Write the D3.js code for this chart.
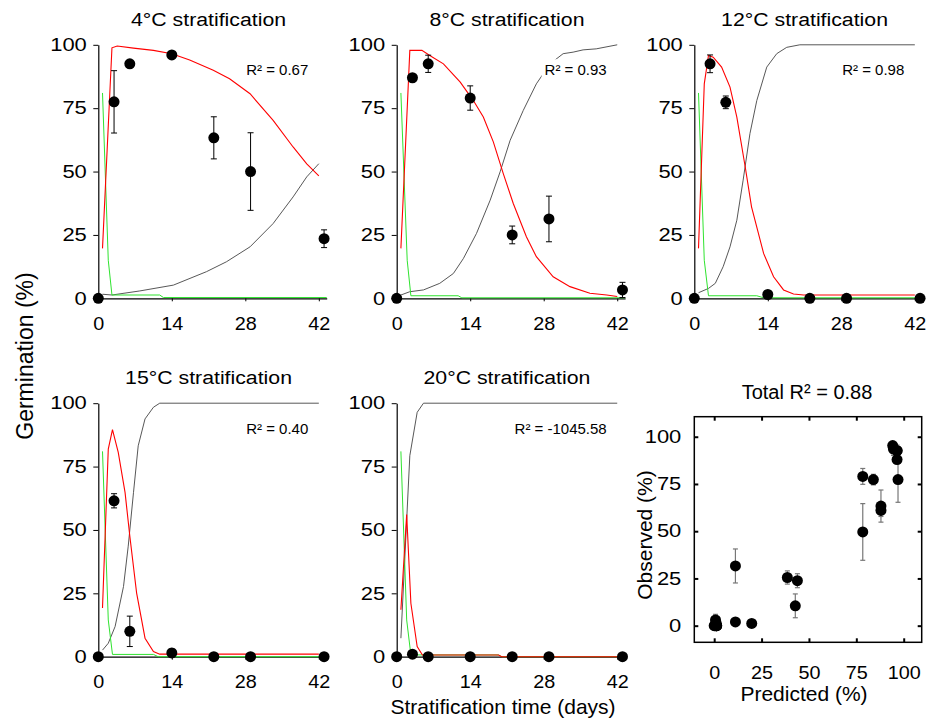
<!DOCTYPE html>
<html lang="en">
<head>
<meta charset="UTF-8">
<title>Germination vs stratification time</title>
<script src="https://cdn.jsdelivr.net/npm/d3@7/dist/d3.min.js"></script>
<style>
  body { margin: 0; background: #fff; }
  svg { font-family: "Liberation Sans", Arial, sans-serif; }
  .ylab text { transform-box: fill-box; transform-origin: right center; transform: scaleX(1.22); }
  .xlab text { transform-box: fill-box; transform-origin: center; transform: scaleX(1.1); }
  .ptitle { transform-box: fill-box; transform-origin: center; transform: scaleX(1.12); }
</style>
</head>
<body>
<script>
// sampling days and tick labels
const days = [0, 3, 6, 14, 22, 29, 43];
const xTicks = [0, 14, 28, 42];
const yTicks = [0, 25, 50, 75, 100];
const scatterTicks = [0, 25, 50, 75, 100];

const titles = ["4°C stratification", "8°C stratification", "12°C stratification", "15°C stratification", "20°C stratification"];
const r2Labels = ["R² = 0.67", "R² = 0.93", "R² = 0.98", "R² = 0.40", "R² = -1045.58"];

// observed germination (%) and error
const obs4 = [0, 77.5, 92.5, 96, 63.3, 50, 23.5];
const err4 = [0, 12.3, 0, 0, 8.3, 15.3, 3.5];
const obs8 = [0, 87, 92.5, 79, 25, 31.3, 3.3];
const err8 = [0, 0, 3.4, 4.8, 3.5, 9, 3];
const obs12 = [0, 92.5, 77.3, 1.5, 0, 0, 0];
const err12 = [0, 3.5, 2.5, 1.5, 0, 0, 0];
const obs15 = [0, 61.5, 10, 1.5, 0, 0, 0];
const err15 = [0, 2.8, 6, 1.5, 0, 0, 0];
const obs20 = [0, 1, 0, 0, 0, 0, 0];
const err20 = [0, 0, 0, 0, 0, 0, 0];

// model curves [day, %]
const red4 = [[0.8,19.7],[2.6,98.8],[3.6,99.5],[6.7,98.7],[10.5,97.8],[14,96.5],[17.4,94],[21.9,90],[25,86.6],[28.9,80.7],[33.3,70.2],[37.1,59.7],[39.7,53],[42,48.3]];
const black4 = [[0.8,1.6],[2.6,1.3],[7.9,2.9],[14.3,5.2],[20.6,10.5],[24.4,14.4],[28.9,20.3],[33.3,29.5],[37.1,40],[39.7,47.9],[42,53.1]];
const green4 = [[0.8,81],[1.9,15],[2.6,1.3],[11.7,1.3],[12.4,0.3],[43.5,0.3]];

const red8 = [[0.8,19.7],[2.5,97.8],[4.8,97.8],[6.3,95.8],[8.9,92.5],[12.1,85.3],[14.6,78],[16.5,71.5],[18.4,61.7],[20.3,49.2],[22.2,37.4],[24.7,24.3],[26.6,16.4],[29.8,8.5],[33,4.6],[36.8,2],[40,1.3],[42,0.7]];
const black8 = [[0.8,1.3],[2.5,2.6],[5.1,3.3],[8.2,5.9],[10.8,9.8],[12.7,15.7],[15.2,25.6],[17.8,38.7],[19.7,49.9],[21.6,62.3],[24.1,74.1],[26.6,84.6],[29.2,92.5],[31.7,96.5],[33.6,97.1],[35.5,98],[38,98.4],[42,100]];
const green8 = [[0.8,81],[2,15],[2.7,1],[11.7,1],[12.4,0.2],[43.5,0.2]];

const red12 = [[0.8,19.7],[1.9,84.6],[2.7,95.8],[3.6,95.1],[5.2,91.2],[6.8,83.3],[8.1,71.5],[9.7,51.8],[10.9,36.1],[13.2,17.7],[15.1,8.5],[17,3.3],[18.9,1.7],[20.8,1.3],[42,1.3]];
const black12 = [[0.8,2.2],[2.7,3.9],[4,5.9],[5.5,12.5],[6.8,20.3],[8.1,30.8],[9.3,46.6],[10.6,65],[11.9,78],[13.8,91.2],[15.7,96.5],[17.6,99],[20.1,100],[42,100]];
const green12 = [[0.8,81],[1.9,15],[2.7,1],[11.9,1],[13.2,0.2],[43.5,0.2]];

const red15 = [[0.8,19.2],[1.9,81.9],[2.7,89.6],[3.8,80.6],[5.1,64.7],[6,47.6],[7.3,25.1],[8.9,7.3],[10.5,2],[11.7,1],[42,1]];
const black15 = [[0.8,2.6],[1.9,5.3],[3.2,11.9],[4.8,27.7],[5.7,43.6],[6.7,64.7],[7.6,83.2],[8.9,93.8],[10.5,98.4],[11.7,100],[42,100]];
const green15 = [[0.8,81],[1.9,14.5],[2.7,0.9],[10.5,0.9],[11.4,0],[43.5,0]];

const red20 = [[0.8,18.5],[1.9,56.1],[2.7,21.1],[3.9,4],[4.9,0.7],[19.4,0.7],[20,0],[42,0]];
const black20 = [[0.8,7.3],[2.5,79.3],[3.9,96.4],[5.1,100],[42,100]];
const green20 = [[0.8,81],[1.9,14.5],[2.7,0.7],[19.4,0.7],[20,0],[43.5,0]];

// predicted vs observed
const predicted = [97, 96.5, 94.2, 88, 78.4, 43.9, 96.5, 94.6, 78.4, 38.6, 11.2, 0.7, 96.5, 84, 11.2, 1.3, 1.3, 1.3, 88, 42.8, 1, 1, 19.8, 0.5, 0];
const observed  = [77.3, 92.6, 95.3, 63.3, 49.6, 23.8, 87.9, 93.5, 79, 25.5, 31.6, 3, 92.6, 77.3, 2, 0, 0, 0, 61, 10.5, 1.5, 0, 1.2, 0, 0];
const obsErr    = [12, 0, 0, 8.5, 15, 3.7, 0, 3.4, 4.2, 3.5, 9, 3, 3, 2.8, 1.5, 0, 0, 0, 3.2, 6.3, 0, 0, 0, 0, 0];

const panels = [
  {title: titles[0], r2: r2Labels[0], obs: obs4, err: err4, red: red4, black: black4, green: green4},
  {title: titles[1], r2: r2Labels[1], obs: obs8, err: err8, red: red8, black: black8, green: green8},
  {title: titles[2], r2: r2Labels[2], obs: obs12, err: err12, red: red12, black: black12, green: green12},
  {title: titles[3], r2: r2Labels[3], obs: obs15, err: err15, red: red15, black: black15, green: green15},
  {title: titles[4], r2: r2Labels[4], obs: obs20, err: err20, red: red20, black: black20, green: green20}
];

const originX = [98.3, 396.7, 694.3, 98.3, 396.7];
const originY = [298.3, 298.3, 298.3, 656.7, 656.7];
const plotW = 228.4, plotH = 253.5;

const svg = d3.select("body").append("svg").attr("width", 927).attr("height", 726);

panels.forEach((p, i) => {
  const x = d3.scaleLinear().domain([0, 43.5]).range([originX[i], originX[i] + plotW]);
  const y = d3.scaleLinear().domain([0, 100]).range([originY[i], originY[i] - plotH]);
  const g = svg.append("g");

  const yAx = g.append("g").attr("class", "ylab")
    .attr("transform", `translate(${originX[i]},0)`)
    .call(d3.axisLeft(y).tickValues(yTicks).tickSize(5).tickPadding(6.5).tickSizeOuter(0));
  const xAx = g.append("g").attr("class", "xlab")
    .attr("transform", `translate(0,${originY[i]})`)
    .call(d3.axisBottom(x).tickValues(xTicks).tickSize(3).tickPadding(16).tickSizeOuter(0));
  [yAx, xAx].forEach(a => {
    a.selectAll("text").attr("font-size", 18).attr("fill", "#000").attr("font-family", null);
    a.selectAll("line").attr("stroke", "#000");
    a.select(".domain").attr("stroke", "#000").attr("stroke-width", 1.2);
  });

  const line = d3.line().x(d => x(d[0])).y(d => y(d[1]));
  g.append("path").datum(p.black).attr("d", line).attr("fill", "none").attr("stroke", "#444").attr("stroke-width", 0.9);
  g.append("path").datum(p.green).attr("d", line).attr("fill", "none").attr("stroke", "#2fe32f").attr("stroke-width", 1);
  g.append("path").datum(p.red).attr("d", line).attr("fill", "none").attr("stroke", "#ff0000").attr("stroke-width", 1.1);

  // R² label with white box behind it
  const lab = g.append("text").attr("x", x(42) - 10.5).attr("y", y(88))
    .attr("text-anchor", "end").attr("font-size", 15).text(p.r2);
  const bb = lab.node().getBBox();
  g.insert("rect", () => lab.node())
    .attr("x", bb.x - 3).attr("y", bb.y - 2).attr("width", bb.width + 6).attr("height", bb.height + 4)
    .attr("fill", "#fff");

  g.append("text").attr("class", "ptitle").attr("x", x(21)).attr("y", y(100) - 19)
    .attr("text-anchor", "middle").attr("font-size", 19).text(p.title);

  const pts = days.map((d, k) => ({d: d, v: p.obs[k], e: p.err[k]}));
  const eb = g.append("g").attr("stroke", "#000").attr("stroke-width", 1);
  pts.filter(d => d.e > 0).forEach(d => {
    eb.append("line").attr("x1", x(d.d)).attr("x2", x(d.d)).attr("y1", y(d.v - d.e)).attr("y2", y(d.v + d.e));
    eb.append("line").attr("x1", x(d.d) - 3).attr("x2", x(d.d) + 3).attr("y1", y(d.v - d.e)).attr("y2", y(d.v - d.e));
    eb.append("line").attr("x1", x(d.d) - 3).attr("x2", x(d.d) + 3).attr("y1", y(d.v + d.e)).attr("y2", y(d.v + d.e));
  });
  g.append("g").selectAll("circle").data(pts).enter().append("circle")
    .attr("cx", d => x(d.d)).attr("cy", d => y(d.v)).attr("r", 5.5).attr("fill", "#000");
});

// shared axis titles
svg.append("text").attr("transform", "translate(33,356) rotate(-90)")
  .attr("text-anchor", "middle").attr("font-size", 23).text("Germination (%)");
svg.append("text").attr("x", 503).attr("y", 714)
  .attr("text-anchor", "middle").attr("font-size", 21).text("Stratification time (days)");

// predicted vs observed panel
const sx = d3.scaleLinear().domain([-10.5, 109.5]).range([694.3, 921.7]);
const sy = d3.scaleLinear().domain([-8.8, 110.6]).range([642.3, 416.7]);
const sg = svg.append("g");
sg.append("rect").attr("x", sx(-10.5)).attr("y", sy(110.6))
  .attr("width", sx(109.5) - sx(-10.5)).attr("height", sy(-8.8) - sy(110.6))
  .attr("fill", "none").attr("stroke", "#000").attr("stroke-width", 1.5);

const sides = [
  [d3.axisBottom(sx), `translate(0,${sy(-8.8)})`, "xlab", true],
  [d3.axisTop(sx), `translate(0,${sy(110.6)})`, null, false],
  [d3.axisLeft(sy), `translate(${sx(-10.5)},0)`, "ylab", true],
  [d3.axisRight(sy), `translate(${sx(109.5)},0)`, null, false]
];
sides.forEach(([ax, tr, cls, labels]) => {
  const a = sg.append("g").attr("transform", tr)
    .call(ax.tickValues(scatterTicks).tickSizeInner(-4).tickSizeOuter(0).tickPadding(cls === "xlab" ? 24 : 13));
  if (cls) a.attr("class", cls);
  a.select(".domain").remove();
  a.selectAll("line").attr("stroke", "#000").attr("stroke-width", 2);
  if (labels) a.selectAll("text").attr("font-size", 18).attr("fill", "#000").attr("font-family", null);
  else a.selectAll("text").remove();
});

const sp = predicted.map((v, k) => ({p: v, o: observed[k], e: obsErr[k]}));
const seb = sg.append("g").attr("stroke", "#777").attr("stroke-width", 1.2);
sp.filter(d => d.e > 0).forEach(d => {
  seb.append("line").attr("x1", sx(d.p)).attr("x2", sx(d.p)).attr("y1", sy(d.o - d.e)).attr("y2", sy(d.o + d.e));
  seb.append("line").attr("x1", sx(d.p) - 2.5).attr("x2", sx(d.p) + 2.5).attr("y1", sy(d.o - d.e)).attr("y2", sy(d.o - d.e));
  seb.append("line").attr("x1", sx(d.p) - 2.5).attr("x2", sx(d.p) + 2.5).attr("y1", sy(d.o + d.e)).attr("y2", sy(d.o + d.e));
});
sg.append("g").selectAll("circle").data(sp).enter().append("circle")
  .attr("cx", d => sx(d.p)).attr("cy", d => sy(d.o)).attr("r", 5.5).attr("fill", "#000");

sg.append("text").attr("x", 807).attr("y", 399).attr("text-anchor", "middle").attr("font-size", 20).text("Total R² = 0.88");
sg.append("text").attr("transform", "translate(652,535) rotate(-90)")
  .attr("text-anchor", "middle").attr("font-size", 21).text("Observed (%)");
sg.append("text").attr("x", 804).attr("y", 701).attr("text-anchor", "middle").attr("font-size", 21).text("Predicted (%)");
</script>
</body>
</html>
